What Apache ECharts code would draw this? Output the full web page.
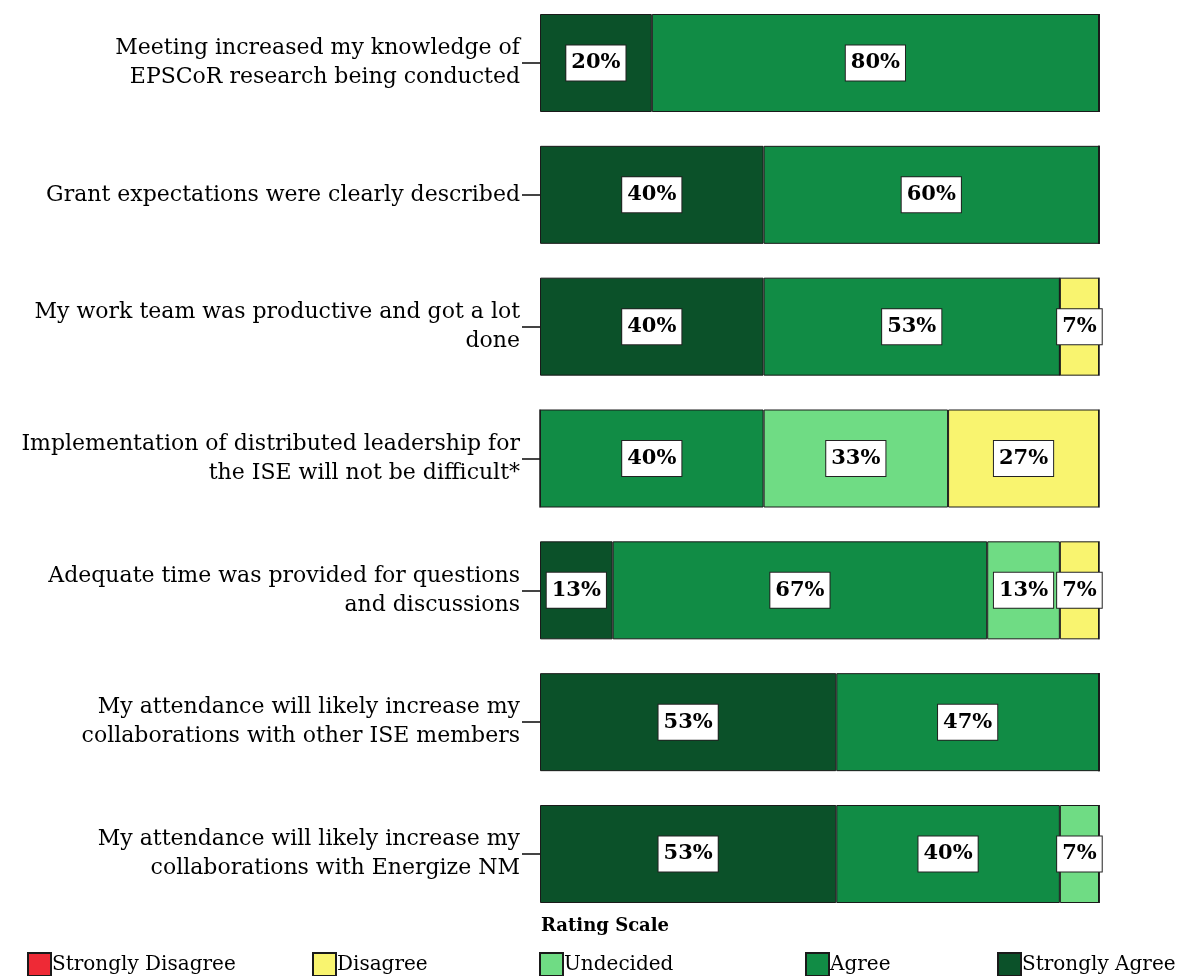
<!DOCTYPE html>
<html>
<head>
<meta charset="utf-8">
<script src="https://cdn.jsdelivr.net/npm/echarts@6/dist/echarts.min.js"></script>
<style>
  html, body { margin: 0; padding: 0; background: #fff; }
  #chart { width: 1184px; height: 976px; }
</style>
</head>
<body>
<div id="chart"></div>
<script>
// statements, top to bottom
const questions = [
  'Meeting increased my knowledge of\nEPSCoR research being conducted',
  'Grant expectations were clearly described',
  'My work team was productive and got a lot\ndone',
  'Implementation of distributed leadership for\nthe ISE will not be difficult*',
  'Adequate time was provided for questions\nand discussions',
  'My attendance will likely increase my\ncollaborations with other ISE members',
  'My attendance will likely increase my\ncollaborations with Energize NM'
]
const ratings = ['Strongly Disagree', 'Disagree', 'Undecided', 'Agree', 'Strongly Agree']
// percentages per rating
const stronglyAgree = [20, 40, 40, 0, 13, 53, 53]
const agree = [80, 60, 53, 40, 67, 47, 40]
const undecided = [0, 0, 0, 33, 13, 0, 7]
const disagree = [0, 0, 7, 27, 7, 0, 0]
const stronglyDisagree = [0, 0, 0, 0, 0, 0, 0]

const colors = {
  'Strongly Disagree': '#ee2a36',
  'Disagree': '#f9f46f',
  'Undecided': '#6fdc84',
  'Agree': '#118c45',
  'Strongly Agree': '#0b5129'
}
const serif = 'DejaVu Serif'

const chart = echarts.init(document.getElementById('chart'))

const mkSeries = (name, data) => ({
  name, type: 'bar', stack: 'all', clip: false,
  data: data.map(v => ({ value: v, label: { show: v > 0 } })),
  barWidth: 98,
  itemStyle: { color: colors[name], borderColor: '#1a1a1a', borderWidth: 1 },
  label: {
    position: 'inside',
    formatter: '{c}%',
    fontFamily: serif, fontWeight: 'bold', fontSize: 21, color: '#000',
    backgroundColor: '#fff', borderColor: '#222', borderWidth: 1,
    padding: [8, 5, 6, 5]
  },
  labelLayout: { hideOverlap: false }
})

// legend positions follow the original layout
const legendLeft = [22, 307, 534, 800, 992]

chart.setOption({
  animation: false,
  title: {
    text: 'Rating Scale', left: 536, top: 912,
    textStyle: { fontFamily: serif, fontWeight: 'bold', fontSize: 18, color: '#000' }
  },
  legend: ratings.map((r, i) => ({
    data: [r], left: legendLeft[i], top: 947, icon: 'rect',
    itemWidth: 23, itemHeight: 23, itemGap: 0,
    textStyle: { fontFamily: serif, fontSize: 20, color: '#000', padding: [0, 0, 0, -4] },
    selectedMode: false
  })),
  // category centres sit on the grid edges (boundaryGap false)
  grid: { left: 540, right: 85, top: 63, height: 791 },
  xAxis: { type: 'value', min: 0, max: 100, show: false },
  yAxis: {
    type: 'category', inverse: true, data: questions, boundaryGap: false,
    axisLine: { show: false },
    axisTick: { show: true, length: 18, lineStyle: { color: '#444', width: 2 } },
    axisLabel: { margin: 20, fontFamily: serif, fontSize: 22, color: '#000', lineHeight: 29, align: 'right' }
  },
  series: [
    mkSeries('Strongly Agree', stronglyAgree),
    mkSeries('Agree', agree),
    mkSeries('Undecided', undecided),
    mkSeries('Disagree', disagree),
    mkSeries('Strongly Disagree', stronglyDisagree)
  ]
})
</script>
</body>
</html>
